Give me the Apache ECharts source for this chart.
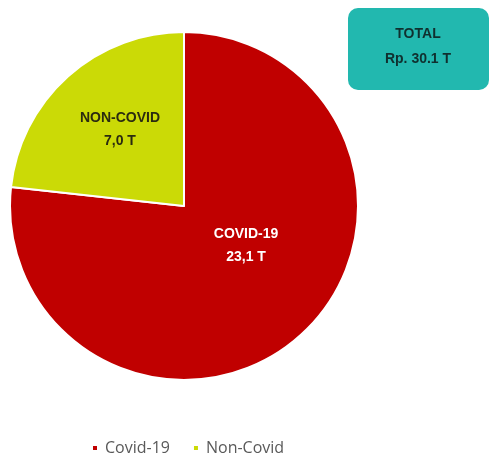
<!DOCTYPE html>
<html>
<head>
<meta charset="utf-8">
<script src="https://cdn.jsdelivr.net/npm/echarts@6/dist/echarts.min.js"></script>
<style>
  html, body { margin: 0; padding: 0; background: #ffffff; }
  #chart { width: 494px; height: 457px; }
</style>
</head>
<body>
<div id="chart"></div>
<script>
// Budget split (trillion rupiah)
const categories = ['Covid-19', 'Non-Covid'];
const sliceLabels = ['COVID-19', 'NON-COVID'];
const values = [23.1, 7.0];
const totalLabel = 'Rp. 30.1 T';
const colors = ['#C00000', '#CBDA06'];
const labelColors = ['#ffffff', '#2b2b10'];
const labelShift = [[2, -27], [-4, -9]];

const fmt = v => v.toFixed(1).replace('.', ',') + ' T';

const chart = echarts.init(document.getElementById('chart'), null, { renderer: 'canvas' });

chart.setOption({
  animation: false,
  legend: {
    top: 435,
    left: 86,
    itemWidth: 6,
    itemHeight: 6,
    itemGap: 22,
    icon: 'rect',
    textStyle: { color: '#595959', fontSize: 16, fontFamily: 'Open Sans', padding: [0, 0, 0, 2] },
    data: categories
  },
  graphic: [{
    type: 'group',
    left: 348,
    top: 8,
    children: [{
      type: 'rect',
      shape: { x: 0, y: 0, width: 141, height: 82, r: 10 },
      style: { fill: '#22B8AF' }
    }, {
      type: 'text',
      style: {
        x: 70, y: 26, text: 'TOTAL', textAlign: 'center', textVerticalAlign: 'middle',
        fill: '#10302f', font: 'bold 14px "Liberation Sans"'
      }
    }, {
      type: 'text',
      style: {
        x: 70, y: 51, text: totalLabel, textAlign: 'center', textVerticalAlign: 'middle',
        fill: '#10302f', font: 'bold 14px "Liberation Sans"'
      }
    }]
  }],
  series: [{
    type: 'pie',
    center: [184, 206],
    radius: [0, 174],
    startAngle: 90,
    clockwise: true,
    itemStyle: { borderColor: '#ffffff', borderWidth: 2 },
    label: {
      show: true,
      position: 'inside',
      fontFamily: 'Liberation Sans',
      fontWeight: 'bold',
      fontSize: 14,
      lineHeight: 23,
      formatter: p => sliceLabels[p.dataIndex] + '\n' + fmt(p.value)
    },
    labelLine: { show: false },
    data: categories.map((c, i) => ({
      name: c,
      value: values[i],
      itemStyle: { color: colors[i] },
      label: { color: labelColors[i], offset: labelShift[i] }
    }))
  }]
});
</script>
</body>
</html>
